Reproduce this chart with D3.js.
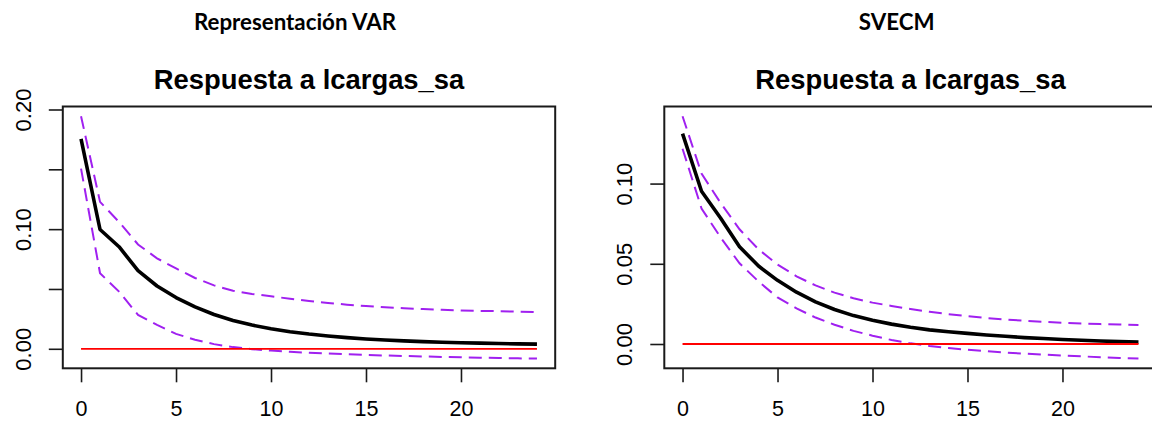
<!DOCTYPE html>
<html>
<head>
<meta charset="utf-8">
<script src="https://cdn.jsdelivr.net/npm/d3@7"></script>
<style>
  html, body { margin: 0; padding: 0; background: #fff; }
  svg { display: block; }
</style>
</head>
<body>
<svg id="chart" width="1152" height="421"></svg>
<script>
// ---------- data ----------
const horizon = d3.range(0, 25);

const headers = ["Representación VAR", "SVECM"];
const panelTitle = "Respuesta a lcargas_sa";

// Panel 1: Representación VAR
const varResponse = [0.1755, 0.0997, 0.0853, 0.0653, 0.0525, 0.0428, 0.0350, 0.0287, 0.0237, 0.0198,
  0.0168, 0.0143, 0.0123, 0.0107, 0.0093, 0.0082, 0.0073, 0.0066, 0.0060, 0.0055,
  0.0051, 0.0047, 0.0044, 0.0041, 0.0039];
const varUpper = [0.1944, 0.1228, 0.1060, 0.0872, 0.0756, 0.0672, 0.0592, 0.0530, 0.0485, 0.0458,
  0.0439, 0.0418, 0.0399, 0.0383, 0.0369, 0.0357, 0.0347, 0.0339, 0.0332, 0.0326,
  0.0321, 0.0317, 0.0314, 0.0311, 0.0308];
const varLower = [0.1506, 0.0631, 0.0478, 0.0283, 0.0200, 0.0125, 0.0075, 0.0039, 0.0014, -0.0003,
  -0.0015, -0.0025, -0.0033, -0.0040, -0.0046, -0.0051, -0.0056, -0.0060, -0.0064, -0.0068,
  -0.0071, -0.0074, -0.0077, -0.0080, -0.0082];
const varYTicks = [0, 0.05, 0.10, 0.15, 0.20];
const varYLabels = [0, 0.10, 0.20];

// Panel 2: SVECM
const svecmResponse = [0.1311, 0.0952, 0.0785, 0.0606, 0.0486, 0.0397, 0.0323, 0.0263, 0.0215, 0.0177,
  0.0148, 0.0124, 0.0104, 0.0088, 0.0076, 0.0066, 0.0056, 0.0048, 0.0040, 0.0034,
  0.0028, 0.0023, 0.0019, 0.0015, 0.0012];
const svecmUpper = [0.1420, 0.1062, 0.0880, 0.0715, 0.0590, 0.0495, 0.0422, 0.0365, 0.0320, 0.0285,
  0.0258, 0.0237, 0.0218, 0.0201, 0.0186, 0.0173, 0.0162, 0.0153, 0.0145, 0.0138,
  0.0132, 0.0128, 0.0124, 0.0121, 0.0119];
const svecmLower = [0.1217, 0.0845, 0.0665, 0.0503, 0.0390, 0.0290, 0.0222, 0.0165, 0.0120, 0.0082,
  0.0052, 0.0025, 0.0004, -0.0012, -0.0025, -0.0036, -0.0045, -0.0053, -0.0060, -0.0066,
  -0.0072, -0.0077, -0.0082, -0.0087, -0.0091];
const svecmYTicks = [0, 0.05, 0.10];
const svecmYLabels = [0, 0.05, 0.10];

const xTicks = [0, 5, 10, 15, 20];

// ---------- layout ----------
const svg = d3.select("#chart");
const font = "'Liberation Sans', Arial, Helvetica, sans-serif";

const panels = [
  { header: headers[0], headerX: 295, left: 62.8, resp: varResponse, up: varUpper, lo: varLower,
    yTicks: varYTicks, yLabels: varYLabels },
  { header: headers[1], headerX: 896.7, left: 664.3, resp: svecmResponse, up: svecmUpper, lo: svecmLower,
    yTicks: svecmYTicks, yLabels: svecmYLabels }
];

const boxW = 492.4, boxTop = 106.5, boxBottom = 368.3;

panels.forEach(p => {
  const g = svg.append("g");
  const n = horizon.length - 1;
  const x = d3.scaleLinear()
    .domain([-0.04 * n, n + 0.04 * n])
    .range([p.left, p.left + boxW]);
  const all = p.resp.concat(p.up, p.lo, [0]);
  const ext = d3.extent(all);
  const pad = (ext[1] - ext[0]) * 0.04;
  const y = d3.scaleLinear()
    .domain([ext[0] - pad, ext[1] + pad])
    .range([boxBottom, boxTop]);

  // header (document-level label)
  g.append("text")
    .attr("x", p.headerX).attr("y", 30)
    .attr("text-anchor", "middle")
    .attr("font-family", "Lato, 'Open Sans', sans-serif")
    .attr("font-weight", "bold")
    .attr("font-size", 22.3)
    .attr("fill", "#000")
    .text(p.header);

  // plot title
  g.append("text")
    .attr("x", p.left + boxW / 2).attr("y", 89)
    .attr("text-anchor", "middle")
    .attr("font-family", font)
    .attr("font-weight", "bold")
    .attr("font-size", 27.4)
    .attr("fill", "#000")
    .text(panelTitle);

  const line = d3.line().x((d, i) => x(horizon[i])).y(d => y(d));

  // response
  g.append("path").datum(p.resp)
    .attr("d", line)
    .attr("fill", "none").attr("stroke", "#000")
    .attr("stroke-width", 3.6).attr("stroke-linejoin", "round");

  // confidence bands
  [p.up, p.lo].forEach(arr => {
    g.append("path").datum(arr)
      .attr("d", line)
      .attr("fill", "none").attr("stroke", "#A020F0")
      .attr("stroke-width", 2)
      .attr("stroke-dasharray", "13,7");
  });

  // zero line
  g.append("line")
    .attr("x1", x(0)).attr("x2", x(n))
    .attr("y1", y(0)).attr("y2", y(0))
    .attr("stroke", "#FF0000").attr("stroke-width", 1.8);

  // box
  g.append("rect")
    .attr("x", p.left).attr("y", boxTop)
    .attr("width", boxW).attr("height", boxBottom - boxTop)
    .attr("fill", "none").attr("stroke", "#1a1a1a").attr("stroke-width", 2);

  // x axis
  const xa = g.append("g")
    .attr("transform", `translate(0,${boxBottom})`)
    .call(d3.axisBottom(x).tickValues(xTicks).tickSize(14).tickSizeOuter(0).tickPadding(20));
  xa.select(".domain").remove();
  xa.selectAll(".tick line").attr("stroke", "#1a1a1a").attr("stroke-width", 1.6);
  xa.selectAll(".tick text")
    .attr("font-family", font).attr("font-size", 21.5).attr("fill", "#000")
    .attr("dy", null).attr("y", 47.8);

  // y axis
  const ya = g.append("g")
    .attr("transform", `translate(${p.left},0)`)
    .call(d3.axisLeft(y).tickValues(p.yTicks).tickSize(14).tickSizeOuter(0)
      .tickFormat(d => p.yLabels.some(v => Math.abs(v - d) < 1e-9) ? d3.format(".2f")(d) : ""));
  ya.select(".domain").remove();
  ya.selectAll(".tick line").attr("stroke", "#1a1a1a").attr("stroke-width", 1.6);
  ya.selectAll(".tick text")
    .attr("font-family", font).attr("font-size", 22).attr("fill", "#000")
    .attr("x", null).attr("dy", null)
    .attr("text-anchor", "middle")
    .attr("transform", "translate(-32,0) rotate(-90)");
});
</script>
</body>
</html>
